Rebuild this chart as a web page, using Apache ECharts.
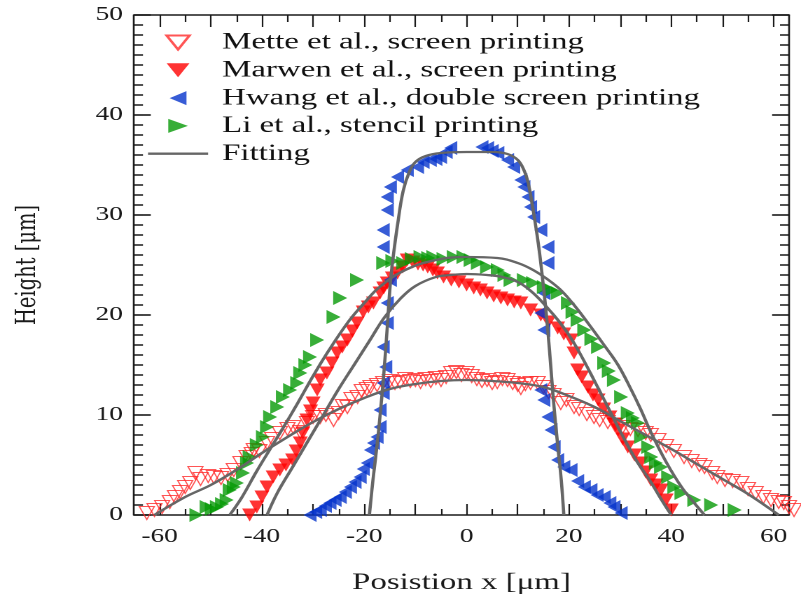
<!DOCTYPE html>
<html>
<head>
<meta charset="utf-8">
<script src="https://cdn.jsdelivr.net/npm/echarts@6/dist/echarts.min.js"></script>
<style>
html,body{margin:0;padding:0;background:#fff;overflow:hidden;width:801px;height:600px;}
#chart{width:572px;height:600px;transform:scaleX(1.4003);transform-origin:0 0;}
</style>
</head>
<body>
<div id="chart"></div>
<script>
// ---------- DATA ----------
const seriesNames = ['Mette et al., screen printing', 'Marwen et al., screen printing', 'Hwang et al., double screen printing', 'Li et al., stencil printing', 'Fitting'];

const metteData = [[-62.5,0.2],[-61,0.5],[-59.5,0.8],[-58,1.3],[-57,1.8],[-56,2.3],[-55,2.8],[-54,3.2],[-53,4.2],[-52,3.6],[-50.5,3.9],[-49.4,3.8],[-48,3.7],[-46.7,4],[-45.5,4.5],[-44.2,5.2],[-43,5.8],[-42,6.1],[-41.6,6.5],[-40.5,6.4],[-39,7.2],[-38,7.6],[-36.5,8.2],[-35,8.6],[-33.9,8.8],[-32.5,8.3],[-31.2,9.2],[-30,9.8],[-28.6,9.8],[-27.5,10],[-26,9.5],[-25,10.2],[-24.2,10.9],[-23.3,10.8],[-22.5,11.6],[-21.3,11.8],[-20.5,12.4],[-19.5,12.6],[-18.8,12.8],[-17.5,13],[-16.3,13.2],[-15,13.4],[-14,13.2],[-13,13.3],[-12,13.6],[-11,13.4],[-10,13.5],[-9,13.3],[-8,13.6],[-7,13.4],[-6,13.7],[-5,13.5],[-4,13.8],[-3,14.2],[-2,14.3],[-1,14],[0,14.2],[1,13.9],[2,13.6],[3,13.4],[4,13.5],[5,13.2],[6,13.3],[7,13.6],[8,13.5],[9,13.2],[10,13],[10.6,12.7],[11.5,13.1],[12.5,13.2],[13.9,13.2],[15,12.8],[16,12.3],[17,12],[18.4,11.2],[19.5,11.5],[21,10.8],[22,10.6],[23.5,10.1],[24.9,9.8],[26,9.5],[27.6,9.3],[29,9],[30.5,8.8],[32,8.6],[33.5,8.5],[35,8.2],[36,8],[37.5,7.5],[39,6.9],[40.5,6.4],[42.5,5.8],[44,5.4],[45.5,5],[46.5,4.8],[48,4.2],[49,3.8],[50.5,3.5],[52,3.4],[53.7,3.2],[55,2.6],[56.5,2.2],[58,1.8],[59.5,1.5],[61,1.3],[62,1.2],[63,0.8],[64,0.5]];

const marwenData = [[-42.4,0],[-41,0.8],[-40,1.8],[-39,2.8],[-37.8,3.8],[-36.5,4.5],[-35.3,5],[-34,5.5],[-33.3,6.4],[-32.5,7.2],[-32,8.2],[-31.2,9.5],[-30.5,10.4],[-30,11.2],[-29.2,12.5],[-28.6,13.5],[-27.3,14.2],[-26.3,15.2],[-25.3,16.2],[-24.3,16.8],[-23.3,17.5],[-22.3,18.4],[-21.4,19.2],[-20.2,20.3],[-19.2,20.8],[-18.2,21.2],[-16.9,22.2],[-16.2,22.7],[-15.5,23.2],[-14.5,23.7],[-13.5,24.2],[-12.5,24.8],[-11.6,25.5],[-10.5,25.3],[-9.5,25.1],[-8.5,25],[-7.6,24.8],[-6.6,24.5],[-5.7,24.2],[-4.5,23.8],[-3,23.5],[-1.5,23.3],[0,23],[1.4,22.7],[2.7,22.5],[4,22.2],[5.3,21.9],[6.7,21.7],[8,21.5],[9.3,21.3],[10.6,21.2],[12.5,20.5],[14.5,20],[16,19.3],[17.8,18.7],[19,18.1],[20.4,17.5],[21,16.2],[21.7,14.5],[22.5,13.8],[23.7,12.8],[24.7,12],[25.7,11.5],[26.8,10.6],[28,9.8],[29,9.1],[29.6,8.5],[30.5,7.6],[31.5,6.8],[32.8,6],[34,5.2],[35,4.3],[36,3.5],[37,3],[38,2.5],[39,1.5],[40,0.5]];

const hwangData = [[-30.6,0],[-29.5,0.3],[-28.6,0.5],[-27.6,0.9],[-26.7,1.2],[-25.7,1.5],[-24.7,1.8],[-23.7,2.3],[-22.7,2.8],[-21.8,3.3],[-20.8,3.8],[-20.2,4.6],[-19.4,5.2],[-18.8,6.5],[-18.2,7.2],[-17.5,7.8],[-16.9,8.8],[-16.9,10.5],[-16.3,12.2],[-16.3,13.2],[-15.8,14.8],[-16.3,16.8],[-15.5,19.2],[-15.5,21.2],[-14.9,23.5],[-16.3,26.8],[-16.3,28.5],[-15.5,30.5],[-15.5,31.8],[-14.9,32.8],[-13.5,33.8],[-11.6,34.5],[-9.6,34.8],[-8.5,35.3],[-7.1,35.5],[-6,35.6],[-5.1,35.8],[-4,36.3],[-3.1,36.7],[3,36.8],[4.1,36.7],[5,36.4],[6.1,36.2],[8,35.5],[9.2,34.8],[10.6,33.5],[11.2,32.8],[12,31.8],[12.5,30.8],[13.1,29.8],[14.5,28.5],[15.9,26.8],[15.9,25.2],[15.1,22.2],[14.5,20.2],[15.1,18.5],[14.5,12.5],[15.1,11.5],[15.9,9.8],[16.5,8.5],[17.1,6.8],[17.8,5.5],[19,4.8],[20.4,4.5],[21.7,3.4],[23,2.8],[24.3,2.5],[25.5,2],[26.9,1.8],[28,1.2],[28.8,0.8],[30.2,0.2]];

const liData = [[-52.8,0],[-50.8,0.8],[-49.8,0.6],[-48.8,0.8],[-47.8,1.1],[-46.9,1.5],[-46.3,2.5],[-45.5,2.8],[-44.9,3.2],[-43.7,4.2],[-42.9,5.2],[-42.4,5.8],[-41,7],[-39.8,7.8],[-39,8.8],[-38.4,9.8],[-37,10.8],[-35.9,11.8],[-34.5,12.5],[-33.1,13.2],[-32.5,14.2],[-31.5,15],[-30.6,15.8],[-29.2,17.5],[-26,19.8],[-24.7,21.7],[-21.4,23.5],[-16.3,25.2],[-14.5,25.4],[-12.4,25.2],[-10.7,25.6],[-9,25.8],[-7.5,25.7],[-6.5,25.8],[-4.5,25.6],[-2.5,25.8],[-0.6,25.8],[0.8,25.5],[2.2,25.2],[4,24.8],[6.1,24.5],[7.4,24],[8.6,23.5],[11.2,23.5],[13,23.2],[15.1,22.8],[16.5,22.5],[17.8,22.2],[19.8,21.2],[20.7,20.3],[21.7,19.5],[23,18.5],[24.4,17.6],[25.7,16.8],[26.9,15.2],[27.8,14.4],[28.8,13.5],[30.2,11.8],[31.5,10.2],[32.5,9.7],[33.5,9.2],[34.1,7.8],[35.5,6.8],[36.1,5.8],[37,5.2],[38,4.8],[39.4,3.8],[40.6,2.8],[42,2.2],[44.5,1.5],[47.8,1],[52.4,0.5]];

// fitted curves
const fitMette = [[-61,0],[-55,1.8],[-50,3],[-45,4.5],[-40,6.2],[-35,7.8],[-30,9.3],[-25,10.6],[-20,11.7],[-15,12.6],[-10,13.1],[-5,13.4],[0,13.5],[5,13.4],[10,13.2],[15,12.8],[20,11.9],[25,10.8],[30,9.4],[35,8],[40,6.6],[45,5.1],[50,3.6],[55,2.1],[61,0]];
const fitMarwen = [[-39,0],[-37,2.2],[-34,4.8],[-31,7.4],[-28,10],[-25,12.6],[-22,15],[-19,17.4],[-16,19.8],[-13,21.6],[-10,22.9],[-6,23.8],[-3,24],[0,24.1],[4,24],[7,23.8],[10,23.3],[13,22.2],[16,20.6],[18,19.4],[20,18],[22,16.3],[25,13.4],[28,10.4],[30,8.4],[33,5.6],[36,3.3],[38,1.6],[40,0]];
const fitLi = [[-46.3,0],[-44,1.7],[-41,4.4],[-38.4,6.6],[-36,8.6],[-33,11.2],[-30,13.9],[-27,16.4],[-23,19.4],[-20,21.2],[-17,22.8],[-12,24.5],[-6,25.5],[0,25.8],[6,25.7],[10,25.2],[13,24.5],[16,23.5],[18.4,22.5],[21,21],[24,19],[27,16.9],[29.6,15],[32,12.7],[34,10.6],[36,8.3],[39,5.3],[42,2.8],[44.5,1.2],[46.5,0]];
const fitHwang = [[-19,0],[-18.3,3.5],[-17.5,7],[-16.9,10],[-16.2,14],[-15.5,18.8],[-14.9,23.2],[-14.3,26],[-13.5,29],[-12.4,32.4],[-11.2,34.3],[-10,35.3],[-8,35.9],[-5,36.2],[0,36.3],[5,36.3],[8,36.1],[10,35.5],[11.2,34.5],[12,33.3],[13,30.5],[14,27.2],[14.7,24.3],[15.5,20.5],[16.2,16.5],[17,11.3],[17.8,7],[18.5,3.5],[19,0]];

const xLabelTicks = [-60,-40,-20,0,20,40,60];
const xMajorTicks = [-60,-50,-40,-30,-20,-10,0,10,20,30,40,50,60];
const xMinorTicks = [-55,-45,-35,-25,-15,-5,5,15,25,35,45,55];

// ---------- STYLE ----------
// The chart is drawn on a 572px wide canvas that is stretched horizontally
// (CSS scaleX) to 801px, reproducing the wide lettering of the reference.
const FONT = '"Liberation Serif", "Times New Roman", serif';
const AX = '#1a1a1a';
const triDown = 'path://M0,0L14,0L7,12Z';
const triLeft = 'path://M12,0L12,14L0,7Z';
const triRight = 'path://M0,0L13,6.5L0,13Z';
const lineIcon = 'path://M0,0L30,0L30,1.6L0,1.6Z';
const X_MIN = -65, X_MAX = 63;

function xAxisDef(position, ticks, len, showLine, showLabel) {
  return {
    type: 'value', position: position, min: X_MIN, max: X_MAX, gridIndex: 0,
    axisLine: {show: showLine, onZero: false, lineStyle: {color: AX, width: 1.6}},
    axisTick: {show: true, inside: true, length: len, customValues: ticks, lineStyle: {color: AX, width: 1.1}},
    axisLabel: showLabel ? {show: true, customValues: xLabelTicks, margin: 12, fontSize: 19.5, fontFamily: FONT, color: AX} : {show: false},
    splitLine: {show: false}
  };
}
function yAxisDef(position, showLabel) {
  return {
    type: 'value', position: position, min: 0, max: 50, interval: 10,
    axisLine: {show: true, onZero: false, lineStyle: {color: AX, width: 1.3}},
    axisTick: {show: true, inside: true, length: 12, lineStyle: {color: AX, width: 1.6}},
    minorTick: {show: true, splitNumber: 10, length: 6.4, lineStyle: {color: AX, width: 1.5}},
    axisLabel: {show: showLabel, margin: 8, fontSize: 19.5, fontFamily: FONT, color: AX},
    splitLine: {show: false}
  };
}

const xAxes = [xAxisDef('bottom', xMajorTicks, 11, true, true), xAxisDef('bottom', xMinorTicks, 6, false, false),
               xAxisDef('top', xMajorTicks, 12, true, false), xAxisDef('top', xMinorTicks, 7, false, false)];
xAxes[0].name = 'Posistion x [μm]';
xAxes[0].nameLocation = 'middle';
xAxes[0].nameGap = 56;
xAxes[0].nameTextStyle = {fontSize: 23.5, fontFamily: FONT, color: AX};

const yAxes = [yAxisDef('left', true), yAxisDef('right', false)];
yAxes[0].name = 'Height [μm]';
yAxes[0].nameLocation = 'middle';
yAxes[0].nameGap = 66;
yAxes[0].nameRotate = 90;
yAxes[0].nameTextStyle = {fontSize: 19.5, fontFamily: '"DejaVu Serif", serif', color: AX};

function fitSeries(data) {
  return {name: 'Fitting', type: 'line', data: data, smooth: 0.4, symbol: 'none', showSymbol: false, z: 5,
    lineStyle: {color: '#666666', width: 2.3}, itemStyle: {color: '#666666'}};
}

const option = {
  animation: false,
  backgroundColor: '#fff',
  grid: {left: 95.7, right: 8.6, top: 15, bottom: 85, outerBoundsMode: 'none'},
  legend: {
    orient: 'vertical', left: 105.7, top: 30.5, itemWidth: 42.9, itemHeight: 14, itemGap: 3.8, padding: 0,
    textStyle: {fontSize: 23.5, fontFamily: FONT, color: '#111', padding: [0, 0, 0, 5]},
    data: [seriesNames[0], seriesNames[1], seriesNames[2], seriesNames[3], {name: seriesNames[4], icon: lineIcon}]
  },
  xAxis: xAxes,
  yAxis: yAxes,
  series: [
    {name: seriesNames[0], type: 'scatter', data: metteData, symbol: triDown, symbolSize: [10.7, 13], clip: false, z: 2,
      itemStyle: {color: 'rgba(255,255,255,0)', borderColor: '#ff2a2a', borderWidth: 1.0}},
    {name: seriesNames[1], type: 'scatter', data: marwenData, symbol: triDown, symbolSize: [10.7, 13], clip: false, z: 2,
      itemStyle: {color: '#ff0000'}},
    {name: seriesNames[2], type: 'scatter', data: hwangData, symbol: triLeft, symbolSize: [9.3, 14], clip: false, z: 2,
      itemStyle: {color: '#0533cc'}},
    {name: seriesNames[3], type: 'scatter', data: liData, symbol: triRight, symbolSize: [10, 14], clip: false, z: 2,
      itemStyle: {color: '#069a06'}},
    fitSeries(fitMette), fitSeries(fitMarwen), fitSeries(fitLi), fitSeries(fitHwang)
  ]
};

const chart = echarts.init(document.getElementById('chart'), null, {renderer: 'canvas', devicePixelRatio: 2});
chart.setOption(option);
</script>
</body>
</html>
